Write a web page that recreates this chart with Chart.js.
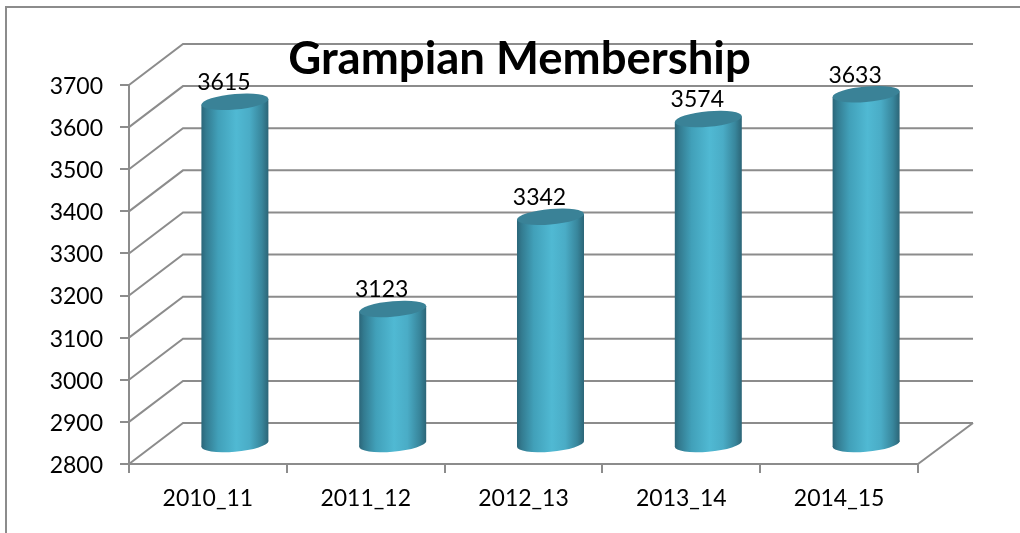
<!DOCTYPE html>
<html><head><meta charset="utf-8">
<style>html,body{margin:0;padding:0;background:#fff;overflow:hidden}canvas{display:block}</style>
<script src="https://cdn.jsdelivr.net/npm/chart.js@4/dist/chart.umd.min.js"></script>
</head><body><canvas id="c" width="1020" height="533"></canvas>
<script>
const titleText = "Grampian Membership";
const categories = ["2010_11","2011_12","2012_13","2013_14","2014_15"];
const memberValues = [3615,3123,3342,3574,3633];
const yMin = 2800, yMax = 3700, yStep = 100;

const FONT = "Lato, Carlito, Calibri, sans-serif";
const LINE = "#8c8c8c";
const DEPTH = {x:54, y:-41};
const BAR_SHIFT = {x:27, y:-19};
const SHEAR = 0.085, CAP_RY = 7.8;

function sideGradient(ctx, x0, x1){
  const g = ctx.createLinearGradient(x0,0,x1,0);
  g.addColorStop(0,"#2b6679");
  g.addColorStop(0.07,"#337b90");
  g.addColorStop(0.25,"#41a0b9");
  g.addColorStop(0.52,"#50b9d3");
  g.addColorStop(0.72,"#4aacc6");
  g.addColorStop(0.90,"#38869c");
  g.addColorStop(1,"#2c6577");
  return g;
}
const barCategoryPct = 0.4246;

const depthPlugin = {
  id:"depth",
  beforeDraw(chart){
    const c = chart.ctx;
    c.save();
    c.fillStyle="#fff"; c.fillRect(0,0,chart.width,chart.height);
    c.strokeStyle=LINE; c.lineWidth=2;
    c.beginPath(); c.moveTo(6,chart.height); c.lineTo(6,7); c.lineTo(chart.width,7); c.stroke();
    c.restore();
  },
  beforeDatasetsDraw(chart){
    const c = chart.ctx, y = chart.scales.y, a = chart.chartArea;
    c.save();
    c.strokeStyle=LINE; c.lineWidth=2;
    y.ticks.forEach(t=>{
      const p = y.getPixelForValue(t.value);
      c.beginPath();
      c.moveTo(a.left,p);
      c.lineTo(a.left+DEPTH.x,p+DEPTH.y);
      c.lineTo(a.right+DEPTH.x+1,p+DEPTH.y);
      c.stroke();
    });
    c.beginPath();
    c.moveTo(a.right,a.bottom);
    c.lineTo(a.right+DEPTH.x+1,a.bottom+DEPTH.y);
    c.stroke();
    c.restore();
  },
  beforeDatasetDraw(chart,args){
    args.meta.data.forEach(el=>{
      if(el._cyl) return;
      el._cyl = true;
      el.draw = function(ctx,area){
        const cx = this.x, w = this.width/2;
        ctx.save();
        ctx.translate(BAR_SHIFT.x,BAR_SHIFT.y);
        ctx.transform(1,-SHEAR,0,1,0,SHEAR*cx);
        ctx.fillStyle = this.options.backgroundColor;
        ctx.beginPath(); ctx.ellipse(cx,this.base,w,CAP_RY,0,0,Math.PI*2); ctx.fill();
        Chart.BarElement.prototype.draw.call(this,ctx,area);
        ctx.fillStyle = "#3a8297";
        ctx.beginPath(); ctx.ellipse(cx,this.y,w,CAP_RY,0,0,Math.PI*2); ctx.fill();
        ctx.restore();
      };
    });
  },
  afterDatasetsDraw(chart){
    const c = chart.ctx, meta = chart.getDatasetMeta(0);
    c.save();
    c.font = "23px "+FONT; c.fillStyle="#000"; c.textAlign="center"; c.textBaseline="middle";
    meta.data.forEach((el,i)=>{
      c.fillText(String(memberValues[i]), el.x+16, el.y+BAR_SHIFT.y-19);
    });
    c.restore();
  },
  beforeLayout(chart){
    const t = chart.titleBlock;
    t._layers = () => [{z:5, draw(){ t.draw(); }}];
  },
  afterLayout(chart){
    chart.titleBlock.left -= 4; chart.titleBlock.right -= 4;
  }
};

new Chart(document.getElementById("c"),{
  type:"bar",
  plugins:[depthPlugin],
  data:{labels:categories,datasets:[{
    data:memberValues,
    base:yMin,
    clip:false,
    borderWidth:0,
    barPercentage:1,
    categoryPercentage:barCategoryPct,
    backgroundColor(ctx){
      const x = ctx.chart.scales.x;
      if(!x || !isFinite(x.width) || x.width<=0) return "#50b9d3";
      const cx = x.getPixelForValue(ctx.dataIndex);
      const w = x.width/categories.length*barCategoryPct/2;
      if(!isFinite(cx)) return "#50b9d3";
      return sideGradient(ctx.chart.ctx,cx-w,cx+w);
    }
  }]},
  options:{
    responsive:false,animation:false,
    layout:{padding:{top:33,right:102,left:0,bottom:0}},
    plugins:{
      legend:{display:false},tooltip:{enabled:false},
      title:{display:true,text:titleText,color:"#000",fullSize:false,
        font:{family:FONT,size:45.5,weight:"bold",lineHeight:"52px"},padding:{top:0,bottom:0}}
    },
    scales:{
      x:{
        offset:true,
        afterFit(s){s.height=69;},
        grid:{offset:true,drawOnChartArea:false,drawTicks:true,tickLength:9,color:LINE,lineWidth:2},
        border:{color:LINE,width:2},
        ticks:{color:"#000",font:{family:FONT,size:23},padding:12,maxRotation:0}
      },
      y:{
        min:yMin,max:yMax,
        afterFit(s){s.width=129;},
        grid:{drawOnChartArea:false,drawTicks:true,tickLength:9,color:LINE,lineWidth:2},
        border:{color:LINE,width:2},
        ticks:{stepSize:yStep,color:"#000",font:{family:FONT,size:23},padding:17,labelOffset:1.5,callback:v=>String(v)}
      }
    }
  }
});
</script></body></html>
